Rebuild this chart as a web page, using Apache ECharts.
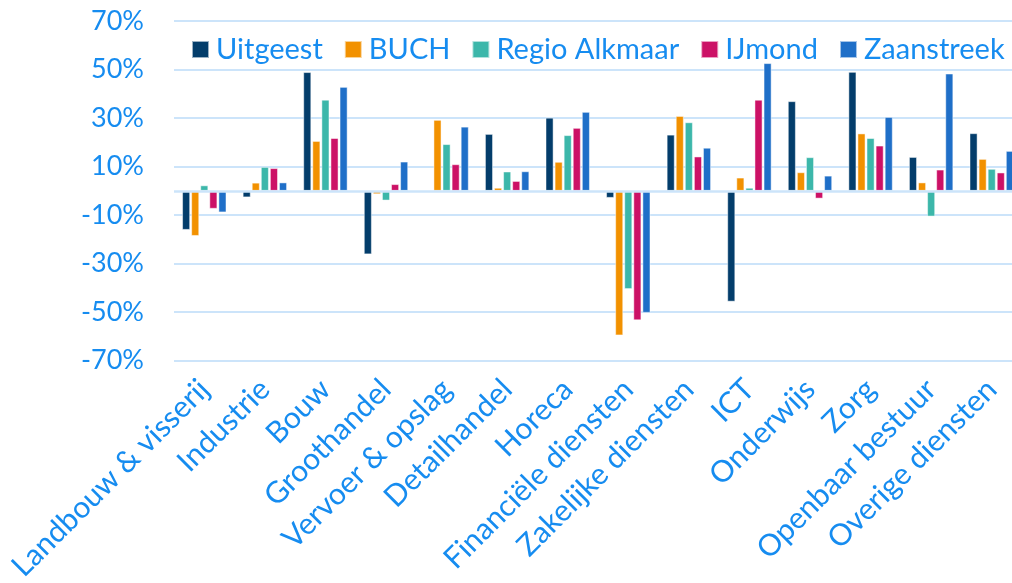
<!DOCTYPE html>
<html>
<head>
<meta charset="utf-8">
<script src="https://cdn.jsdelivr.net/npm/echarts@6/dist/echarts.min.js"></script>
<style>
html,body{margin:0;padding:0;background:#fff;overflow:hidden;}
#c{width:1012px;height:583px;}
</style>
</head>
<body>
<div id="c"></div>
<script>
const categories = ['Landbouw & visserij','Industrie','Bouw','Groothandel','Vervoer & opslag','Detailhandel','Horeca','Financiële diensten','Zakelijke diensten','ICT','Onderwijs','Zorg','Openbaar bestuur','Overige diensten'];
const seriesNames = ['Uitgeest','BUCH','Regio Alkmaar','IJmond','Zaanstreek'];
const uitgeest   = [-16.1, -2.7, 48.9, -26.2, null, 23.4, 30.1, -2.9, 23.1, -45.7, 36.9, 49.0, 13.9, 23.7];
const buch       = [-18.6, 3.3, 20.5, -1.4, 29.2, 1.2, 11.9, -59.6, 30.8, 5.4, 7.6, 23.6, 3.4, 13.1];
const regio      = [2.2, 9.8, 37.5, -4.0, 19.2, 7.9, 22.9, -40.5, 28.2, 1.2, 13.8, 21.7, -10.6, 9.0];
const ijmond     = [-7.4, 9.3, 21.7, 2.7, 10.9, 4.0, 25.9, -53.4, 14.1, 37.5, -3.2, 18.6, 8.7, 7.5];
const zaanstreek = [-8.9, 3.4, 42.8, 12.0, 26.4, 8.0, 32.5, -50.3, 17.7, 52.6, 6.2, 30.4, 48.3, 16.4];
const yTickLabels = ['-70%','-50%','-30%','-10%','10%','30%','50%','70%'];

const colors = ['#033d6b','#f29100','#3cb7aa','#cc1166','#1f6fc8'];
const textColor = '#168cf0';
const gridColor = '#cce4fa';
const font = 'Lato';

const dataSets = [uitgeest, buch, regio, ijmond, zaanstreek];
const series = dataSets.map((d, i) => ({
  name: seriesNames[i],
  type: 'bar',
  yAxisIndex: 0,
  data: d,
  barGap: '15%',
  barCategoryGap: '27%',
  itemStyle: { color: colors[i], borderColor: 'rgba(255,255,255,0.6)', borderWidth: 0.8 },
  markLine: i === 0 ? {
    silent: true, symbol: 'none', label: { show: false },
    lineStyle: { color: gridColor, width: 2.5, type: 'solid' },
    data: [{ yAxis: 0 }]
  } : undefined
}));

const chart = echarts.init(document.getElementById('c'));
chart.setOption({
  animation: false,
  backgroundColor: '#fff',
  grid: { left: 174, width: 848, top: 21, bottom: 222.5, containLabel: false, outerBoundsMode: 'none' },
  legend: {
    data: seriesNames,
    left: 186, top: 30,
    itemWidth: 17, itemHeight: 17, itemGap: 21,
    icon: 'rect',
    textStyle: { color: textColor, fontSize: 29, fontFamily: font, padding: [0,0,0,2] }
  },
  xAxis: {
    type: 'category',
    data: categories,
    axisLine: { show: false, onZero: false },
    axisTick: { show: false },
    axisLabel: { rotate: 45, interval: 0, margin: 24, color: textColor, fontSize: 30, fontFamily: font }
  },
  yAxis: [
    { type: 'value', min: -70, max: 70, show: false, splitLine: { show: false } },
    { type: 'value', min: 0, max: 140, interval: 20, position: 'left',
      axisLine: { show: false }, axisTick: { show: false },
      axisLabel: { margin: 30, color: textColor, fontSize: 27, fontFamily: font,
        formatter: (v) => yTickLabels[Math.round(v / 20)] },
      splitLine: { show: true, lineStyle: { color: gridColor, width: 2 } } }
  ],
  series: series
});
</script>
</body>
</html>
